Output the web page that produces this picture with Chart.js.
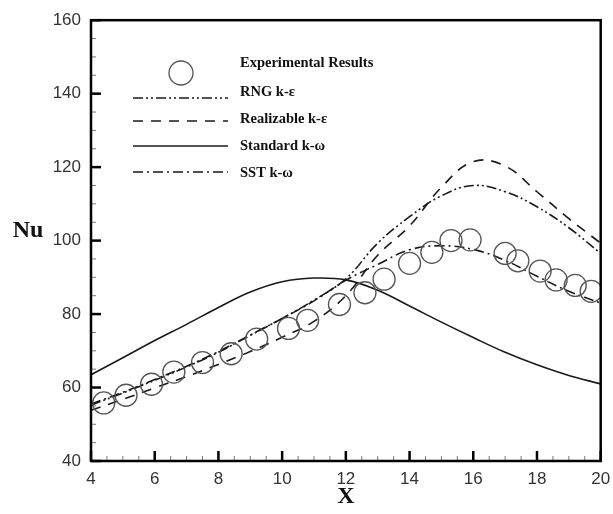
<!DOCTYPE html>
<html>
<head>
<meta charset="utf-8">
<script src="https://cdn.jsdelivr.net/npm/chart.js@4.4.1/dist/chart.umd.min.js"></script>
<style>
    html, body { margin: 0; padding: 0; background: #fff; }
    #wrap { width: 613px; height: 514px; }
</style>
</head>
<body>
<div id="wrap"><canvas id="myChart" width="613" height="514"></canvas></div>
<script>
// model curves, sampled every unit of X
const modelX = [4, 5, 6, 7, 8, 9, 10, 11, 12, 13, 14, 15, 16, 17, 18, 19, 20];
const rngNu = [55.2, 58.5, 62, 65.6, 69.6, 74.2, 78.8, 83.8, 89.6, 99.3, 106.5, 112.2, 115, 113.3, 109.2, 103.5, 96.5];
const realizableNu = [53.8, 56.8, 59.9, 63, 66.3, 69.8, 73.7, 78, 85, 96, 104, 114.5, 121.5, 120.3, 113.3, 106, 99.3];
const standardNu = [63.5, 68.1, 72.8, 77.2, 81.8, 86, 88.8, 89.8, 89.3, 86.5, 82.2, 77.8, 73.6, 69.6, 66.2, 63.3, 61];
const sstNu = [55.5, 58.7, 62.2, 65.8, 69.8, 74.3, 78.8, 83.6, 89.2, 93.5, 97.5, 98.6, 97.6, 94.6, 90.3, 86.2, 83];

// experimental points
const expX = [4.4, 5.1, 5.9, 6.6, 7.5, 8.4, 9.2, 10.2, 10.8, 11.8, 12.6, 13.2, 14.0, 14.7, 15.3, 15.9, 17.0, 17.4, 18.1, 18.6, 19.2, 19.7];
const expNu = [55.8, 57.9, 60.9, 64.2, 66.8, 69.2, 73.2, 76.1, 78.3, 82.6, 85.8, 89.5, 93.8, 96.8, 100, 100.2, 96.5, 94.5, 91.7, 89.3, 87.8, 86.2];

const xTicks = [4, 6, 8, 10, 12, 14, 16, 18, 20];
const yTicks = [40, 60, 80, 100, 120, 140, 160];

function toPoints(xs, ys) {
    return xs.map(function (x, i) { return { x: x, y: ys[i] }; });
}

function lineSet(label, ys, dash) {
    return {
        label: label,
        data: toPoints(modelX, ys),
        borderColor: '#1a1a1a',
        borderWidth: 1.6,
        borderDash: dash,
        pointRadius: 0,
        tension: 0.4,
        fill: false
    };
}

// frame, inward ticks, titles and the legend inside the plot
const decorations = {
    id: 'decorations',
    afterDatasetsDraw(chart) {
        const ctx = chart.ctx;
        const area = chart.chartArea;
        const xs = chart.scales.x;
        const ys = chart.scales.y;
        ctx.save();

        for (let v = 4; v <= 20; v += 0.5) {
            const major = v % 2 === 0;
            const px = xs.getPixelForValue(v);
            ctx.lineWidth = major ? 2.5 : 1;
            ctx.strokeStyle = major ? '#000' : '#777';
            ctx.beginPath();
            ctx.moveTo(px, area.bottom);
            ctx.lineTo(px, area.bottom - (major ? 10 : 5));
            ctx.stroke();
        }
        for (let v = 40; v <= 160; v += 5) {
            const major = v % 20 === 0;
            const py = ys.getPixelForValue(v);
            ctx.lineWidth = major ? 2.5 : 1;
            ctx.strokeStyle = major ? '#000' : '#777';
            ctx.beginPath();
            ctx.moveTo(area.left, py);
            ctx.lineTo(area.left + (major ? 10 : 5), py);
            ctx.stroke();
        }

        ctx.strokeStyle = '#000';
        ctx.lineWidth = 2.5;
        ctx.strokeRect(area.left, area.top, area.right - area.left, area.bottom - area.top);

        ctx.fillStyle = '#111';
        ctx.font = 'bold 24px "Liberation Serif"';
        ctx.textAlign = 'center';
        ctx.textBaseline = 'middle';
        ctx.fillText('Nu', 28, 231);
        ctx.fillText('X', (area.left + area.right) / 2, 497);

        // legend
        const sets = chart.data.datasets;
        const textX = 240;
        const textY = [63, 92, 119, 146, 173];
        const sampleY = [73, 98, 121, 146, 172];
        ctx.font = 'bold 14.5px "Liberation Serif"';
        ctx.textAlign = 'left';
        for (let i = 0; i < sets.length; i++) {
            const ds = sets[i];
            ctx.fillStyle = '#111';
            ctx.fillText(ds.label, textX, textY[i]);
            ctx.strokeStyle = ds.borderColor;
            ctx.lineWidth = ds.borderWidth;
            if (ds.showLine === false) {
                ctx.setLineDash([]);
                ctx.beginPath();
                ctx.arc(181, sampleY[i], 12, 0, Math.PI * 2);
                ctx.stroke();
            } else {
                ctx.setLineDash(ds.borderDash || []);
                ctx.beginPath();
                ctx.moveTo(133, sampleY[i]);
                ctx.lineTo(228, sampleY[i]);
                ctx.stroke();
            }
        }
        ctx.restore();
    }
};

const ctx = document.getElementById('myChart').getContext('2d');
new Chart(ctx, {
    type: 'line',
    data: {
        datasets: [
            {
                label: 'Experimental Results',
                data: toPoints(expX, expNu),
                showLine: false,
                borderColor: '#555',
                borderWidth: 1.3,
                backgroundColor: 'rgba(0,0,0,0)',
                pointStyle: 'circle',
                pointRadius: 11,
                pointBorderWidth: 1.3,
                pointBorderColor: '#555'
            },
            lineSet('RNG k-ε', rngNu, [10, 3, 2, 3, 2, 3]),
            lineSet('Realizable k-ε', realizableNu, [10, 8]),
            lineSet('Standard k-ω', standardNu, []),
            lineSet('SST k-ω', sstNu, [10, 4, 2, 4])
        ]
    },
    options: {
        responsive: false,
        devicePixelRatio: 1,
        animation: false,
        layout: { padding: { top: 20, right: 10, left: 0, bottom: 0 } },
        plugins: {
            legend: { display: false },
            tooltip: { enabled: false }
        },
        scales: {
            x: {
                type: 'linear',
                min: 4,
                max: 20,
                afterFit: function (scale) {
                    scale.height = 53;
                    scale.paddingRight = 0;
                    scale.paddingLeft = 0;
                },
                afterBuildTicks: function (scale) {
                    scale.ticks = xTicks.map(function (v) { return { value: v }; });
                },
                grid: { display: false, drawTicks: false },
                border: { display: false },
                ticks: {
                    padding: 8,
                    color: '#333',
                    font: { family: 'Liberation Sans', size: 17 }
                }
            },
            y: {
                min: 40,
                max: 160,
                afterFit: function (scale) { scale.width = 91; },
                afterBuildTicks: function (scale) {
                    scale.ticks = yTicks.map(function (v) { return { value: v }; });
                },
                grid: { display: false, drawTicks: false },
                border: { display: false },
                ticks: {
                    padding: 10,
                    color: '#333',
                    font: { family: 'Liberation Sans', size: 17 }
                }
            }
        }
    },
    plugins: [decorations]
});
</script>
</body>
</html>
